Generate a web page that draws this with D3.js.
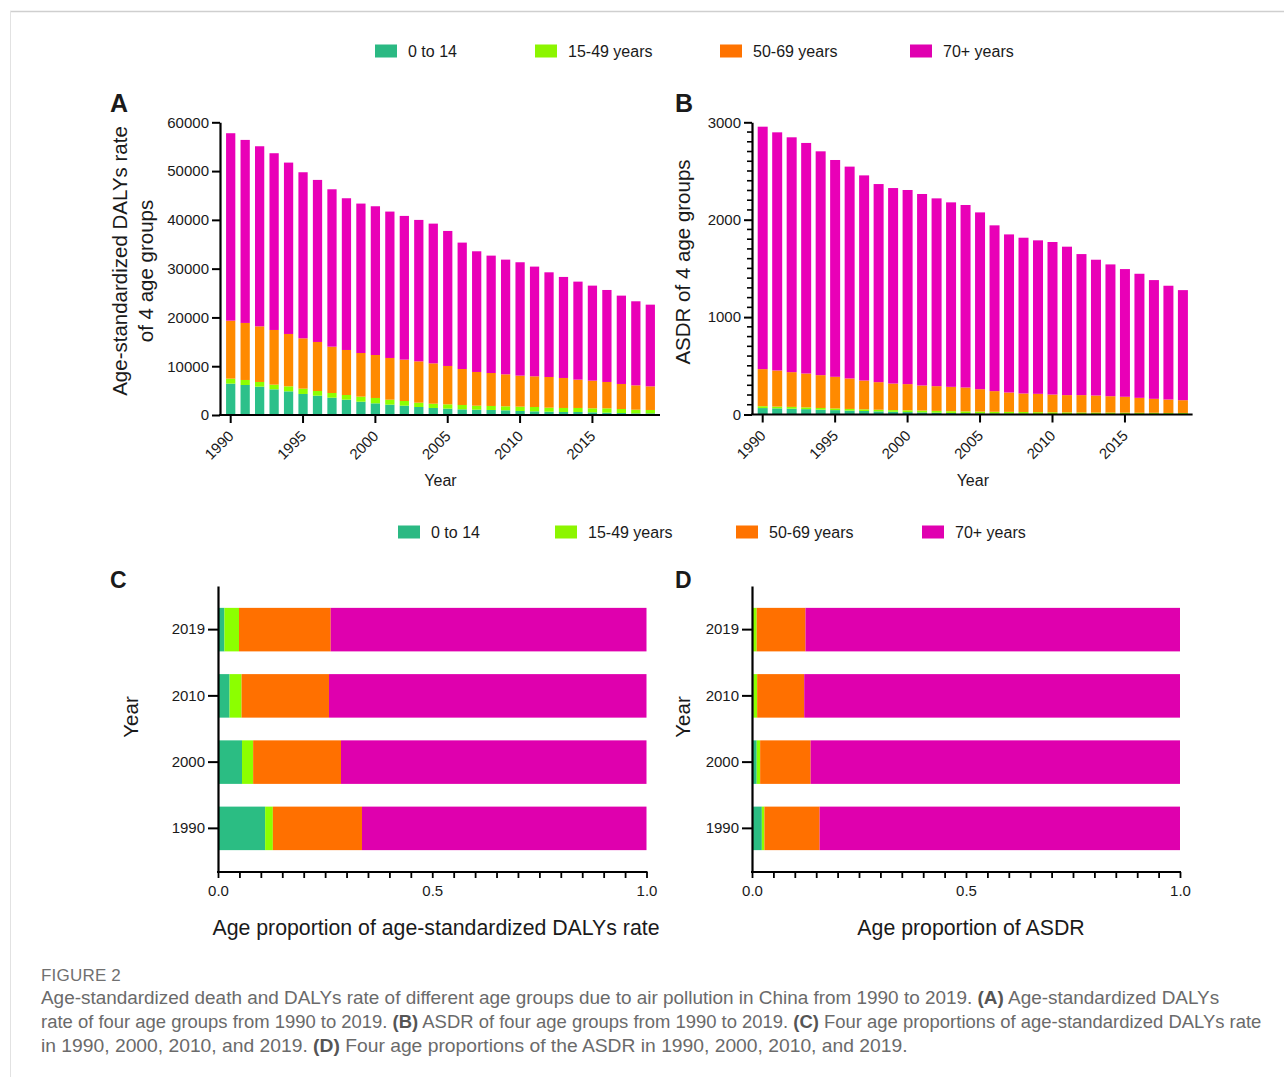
<!DOCTYPE html>
<html><head><meta charset="utf-8">
<script src="https://cdn.jsdelivr.net/npm/d3@7"></script>
<style>
body{margin:0;background:#fff}
svg{display:block}
text{font-family:"Liberation Sans",Arial,sans-serif;fill:#1a1a1a}
</style>
</head><body>
<svg id="chart" width="1284" height="1077"></svg>
<script>
// ---------------- DATA ----------------
const groups = ["0 to 14", "15-49 years", "50-69 years", "70+ years"];
const years = [1990,1991,1992,1993,1994,1995,1996,1997,1998,1999,2000,2001,2002,2003,2004,
               2005,2006,2007,2008,2009,2010,2011,2012,2013,2014,2015,2016,2017,2018,2019];

// Panel A: age-standardized DALYs rate per age group
const dalys0to14  = [6430,6150,5810,5260,4850,4310,3960,3550,3140,2730,2390,2120,1910,1640,1440,
                     1300,1160,1090,1030,960,820,750,680,620,620,550,480,410,340,340];
const dalys15to49 = [1020,1030,960,960,1030,1090,960,960,960,1030,1100,1020,960,890,880,
                     890,890,820,820,820,890,890,820,820,820,820,890,820,750,690];
const dalys50to69 = [11890,11690,11410,11210,10730,10320,10050,9500,9230,8950,8810,8550,8480,8470,8270,
                     7860,7380,6910,6760,6560,6360,6290,6290,6150,5810,5670,5400,5130,4990,4850];
const dalys70plus = [38420,37520,36910,36230,35130,34040,33220,32260,31100,30630,30490,30010,29460,28990,28640,
                     27680,25910,24740,24060,23510,23240,22490,21460,20710,20090,19480,18860,18110,17230,16740];

// Panel B: ASDR per age group
const asdr0to14  = [66,63,60,55,50,45,40,36,32,28,25,22,19,16,14,12,10,9,8,6,5,5,4,4,4,3,3,3,2,2];
const asdr15to49 = [19,18,18,18,17,17,17,17,17,17,18,18,18,18,18,18,18,18,18,18,18,17,17,16,16,16,15,15,14,14];
const asdr50to69 = [381,371,357,348,337,325,313,296,283,273,269,258,254,250,245,
                    230,212,199,190,188,182,177,178,175,168,163,153,143,138,131];
const asdr70plus = [2489,2445,2411,2367,2298,2226,2175,2106,2034,2007,1993,1966,1928,1894,1874,
                    1815,1702,1623,1599,1576,1566,1524,1448,1394,1353,1311,1274,1219,1168,1130];

// Panels C & D: proportions (order 1990, 2000, 2010, 2019)
const propYears = ["1990", "2000", "2010", "2019"];
const dalysProp0to14  = [0.110, 0.056, 0.027, 0.015];
const dalysProp15to49 = [0.018, 0.026, 0.028, 0.034];
const dalysProp50to69 = [0.208, 0.205, 0.204, 0.214];
const dalysProp70plus = [0.664, 0.713, 0.741, 0.737];
const asdrProp0to14  = [0.023, 0.011, 0.003, 0.002];
const asdrProp15to49 = [0.006, 0.008, 0.009, 0.009];
const asdrProp50to69 = [0.129, 0.118, 0.110, 0.114];
const asdrProp70plus = [0.842, 0.863, 0.878, 0.875];

// Ticks
const dalysTicks = [0,10000,20000,30000,40000,50000,60000];
const asdrTicks = [0,1000,2000,3000];
const yearTicks = [1990,1995,2000,2005,2010,2015];
const propTicks = [0.0,0.5,1.0];

// ---------------- STYLE ----------------
const colorsTop = ["#2cc08a","#8cff00","#ff8a00","#e900b7"];
const colorsBottom = ["#2bbd83","#8cff00","#ff7000","#df00ae"];
const legendColors = ["#2bb983","#8cf500","#ff7300","#e000b0"];
const keys = ["g0","g1","g2","g3"];

const svg = d3.select("#chart");

// frame
svg.append("line").attr("x1",10).attr("x2",1284).attr("y1",11.5).attr("y2",11.5).attr("stroke","#cfcfcf").attr("stroke-width",1.5);
svg.append("line").attr("x1",10.5).attr("x2",10.5).attr("y1",11).attr("y2",1077).attr("stroke","#e2e2e2").attr("stroke-width",1);

function styleAxis(g){
  g.select(".domain").attr("stroke","#000").attr("stroke-width",2.2);
  g.selectAll(".tick line").attr("stroke","#000").attr("stroke-width",2);
  g.selectAll(".tick text").attr("font-size",15).attr("fill","#1a1a1a")
    .attr("font-family","'Liberation Sans',Arial,sans-serif");
}

function legend(y, xs){
  const lg = svg.append("g");
  groups.forEach((name,i)=>{
    lg.append("rect").attr("x",xs[i]).attr("y",y-6.5).attr("width",22).attr("height",13).attr("fill",legendColors[i]);
    lg.append("text").attr("x",xs[i]+33).attr("y",y+5.5).attr("font-size",16).text(name);
  });
}
legend(51, [375,535,720,910]);
legend(532, [398,555,736,922]);

function panelLetter(t,x,y,size){
  svg.append("text").attr("x",x).attr("y",y).attr("font-size",size).attr("font-weight","bold").text(t);
}

function verticalPanel(o){
  const rows = years.map((yr,i)=>({year:yr, g0:o.v[0][i], g1:o.v[1][i], g2:o.v[2][i], g3:o.v[3][i]}));
  const x = d3.scaleBand().domain(years).range([o.x0,o.x1]).paddingInner(o.pi).paddingOuter(o.po);
  const y = d3.scaleLinear().domain([0,o.max]).range([o.yb,o.yt]);
  const series = d3.stack().keys(keys)(rows);
  const g = svg.append("g");
  series.forEach((s,k)=>{
    g.selectAll(null).data(s).enter().append("rect")
      .attr("x",d=>x(d.data.year)).attr("width",x.bandwidth())
      .attr("y",d=>y(d[1])).attr("height",d=>Math.max(0,y(d[0])-y(d[1])))
      .attr("fill",colorsTop[k]);
  });
  // y axis
  const ya = g.append("g").attr("transform",`translate(${o.x0-1},0)`)
    .call(d3.axisLeft(y).tickValues(o.ticks).tickSize(8).tickSizeOuter(0).tickPadding(3).tickFormat(d3.format("d")));
  styleAxis(ya);
  if(o.minor){
    const minor = d3.range(0,o.max+1,o.minor).filter(v=>!o.ticks.includes(v));
    g.selectAll(null).data(minor).enter().append("line")
      .attr("x1",o.x0-1).attr("x2",o.x0-6).attr("y1",d=>y(d)).attr("y2",d=>y(d))
      .attr("stroke","#000").attr("stroke-width",1.6);
  }
  // x axis
  const xa = g.append("g").attr("transform",`translate(0,${o.yb})`)
    .call(d3.axisBottom(x).tickValues(yearTicks).tickSize(8).tickSizeOuter(0));
  styleAxis(xa);
  xa.select(".domain").attr("d",`M${o.x0-2},0H${o.x1}`);
  xa.selectAll(".tick text").attr("text-anchor","end").attr("dy",0).attr("y",0)
    .attr("transform","translate(4,22) rotate(-45)").attr("font-size",15);
  // axis titles
  svg.append("text").attr("x",(o.x0+o.x1)/2).attr("y",o.yb+71).attr("text-anchor","middle").attr("font-size",16).text("Year");
  o.ytitle.forEach((t,i)=>{
    svg.append("text").attr("transform",`translate(${o.ytx[i]},${o.yty[i]}) rotate(-90)`)
      .attr("text-anchor","middle").attr("font-size",20.5).text(t);
  });
}

verticalPanel({v:[dalys0to14,dalys15to49,dalys50to69,dalys70plus], x0:221, x1:660, pi:0.36, po:0.35,
  max:60000, yb:415, yt:122.3, ticks:dalysTicks, minor:null,
  ytitle:["Age-standardized DALYs rate","of 4 age groups"], ytx:[127,153], yty:[261,271]});
verticalPanel({v:[asdr0to14,asdr15to49,asdr50to69,asdr70plus], x0:753, x1:1192.6, pi:0.31, po:0.324,
  max:3000, yb:414.5, yt:122.3, ticks:asdrTicks, minor:100,
  ytitle:["ASDR of 4 age groups"], ytx:[690], yty:[262]});

panelLetter("A",110,112,25);
panelLetter("B",675,112,25);
panelLetter("C",110,588,23);
panelLetter("D",675,588,23);

function horizontalPanel(o){
  const rows = propYears.map((yr,i)=>({year:yr, g0:o.v[0][i], g1:o.v[1][i], g2:o.v[2][i], g3:o.v[3][i]}));
  const x = d3.scaleLinear().domain([0,1]).range([o.x0,o.x1]);
  const y = d3.scaleBand().domain(propYears.slice().reverse()).range([586,872]).paddingInner(0.343).paddingOuter(0.33);
  const series = d3.stack().keys(keys)(rows);
  const g = svg.append("g");
  series.forEach((s,k)=>{
    g.selectAll(null).data(s).enter().append("rect")
      .attr("y",d=>y(d.data.year)).attr("height",y.bandwidth())
      .attr("x",d=>x(d[0])).attr("width",d=>Math.max(0,x(d[1])-x(d[0])))
      .attr("fill",colorsBottom[k]);
  });
  const ya = g.append("g").attr("transform",`translate(${o.x0},0)`)
    .call(d3.axisLeft(y).tickSize(10).tickSizeOuter(0).tickPadding(3));
  styleAxis(ya);
  const xa = g.append("g").attr("transform",`translate(0,872)`)
    .call(d3.axisBottom(x).ticks(20).tickSize(6).tickSizeOuter(0).tickPadding(7)
      .tickFormat(d=>propTicks.some(p=>Math.abs(p-d)<1e-9)?d3.format(".1f")(d):""));
  styleAxis(xa);
  xa.select(".domain").attr("d",`M${o.x0-1},0H${o.x1+1}`);
  xa.selectAll(".tick line").attr("stroke-width",1.8);
  svg.append("text").attr("x",o.xtc).attr("y",935).attr("text-anchor","middle").attr("font-size",21.3).text(o.xtitle);
  svg.append("text").attr("transform",`translate(${o.ylx},717) rotate(-90)`).attr("text-anchor","middle").attr("font-size",20.5).text("Year");
}
horizontalPanel({v:[dalysProp0to14,dalysProp15to49,dalysProp50to69,dalysProp70plus], x0:218, x1:646.5,
  xtitle:"Age proportion of age-standardized DALYs rate", xtc:436, ylx:138});
horizontalPanel({v:[asdrProp0to14,asdrProp15to49,asdrProp50to69,asdrProp70plus], x0:752, x1:1180,
  xtitle:"Age proportion of ASDR", xtc:971, ylx:690});

// ---------------- CAPTION ----------------
svg.append("text").attr("x",41).attr("y",981).attr("font-size",17).attr("fill","#6f6f6f")
  .attr("font-family","'Open Sans',sans-serif").attr("font-weight",500).attr("letter-spacing",0.2).style("fill","#707070").text("FIGURE 2");
const captionLines = [
  {w:1179, y:1004, parts:[["Age-standardized death and DALYs rate of different age groups due to air pollution in China from 1990 to 2019. ",0],["(A)",1],[" Age-standardized DALYs",0]]},
  {w:1221, y:1028, parts:[["rate of four age groups from 1990 to 2019. ",0],["(B)",1],[" ASDR of four age groups from 1990 to 2019. ",0],["(C)",1],[" Four age proportions of age-standardized DALYs rate",0]]},
  {w:867, y:1052, parts:[["in 1990, 2000, 2010, and 2019. ",0],["(D)",1],[" Four age proportions of the ASDR in 1990, 2000, 2010, and 2019.",0]]}
];
captionLines.forEach(l=>{
  const t = svg.append("text").attr("x",41).attr("y",l.y).attr("font-size",16)
    .attr("font-family","'Open Sans',sans-serif").attr("font-weight",300).style("fill","#6a6a6a");
  l.parts.forEach(p=>{
    t.append("tspan").attr("font-weight",p[1]?700:300).style("fill",p[1]?"#555":"#6a6a6a").text(p[0]);
  });
  const len = t.node().getComputedTextLength();
  t.attr("font-size",16*l.w/len);
});
</script>
</body></html>
